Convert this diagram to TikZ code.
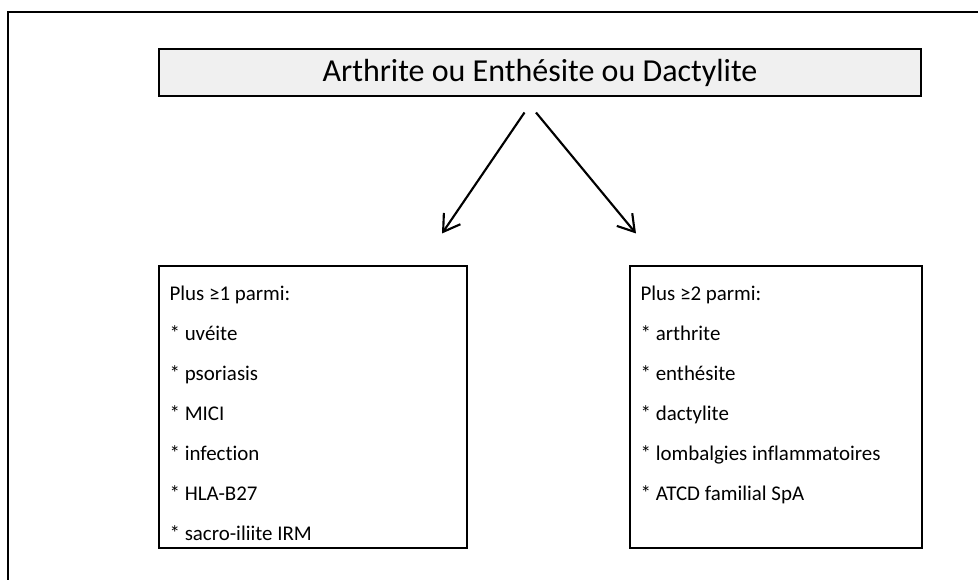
\documentclass[tikz,border=0pt]{standalone}
\usepackage{fontspec}
\setmainfont{Carlito}[Ligatures={NoCommon}]
\usepackage{xcolor}
\usepackage{tikz}
\usetikzlibrary{arrows.meta}

\definecolor{titregris}{HTML}{F0F0F0}

\tikzset{
  trait/.style={line width=1.4pt},
  titrebox/.style={trait, draw, fill=titregris, minimum width=571.5pt, minimum height=35.25pt, inner sep=0pt, font=\fontsize{24}{28}\selectfont},
  critbox/.style={trait, draw, anchor=north west, inner xsep=8pt, inner ysep=0pt, font=\fontsize{15.7}{30}\selectfont},
  fleche/.style={line width=1.6pt, -{Straight Barb[length=12pt,width=15pt,line width=1.6pt]}}
}

\begin{document}
\begin{tikzpicture}[x=0.75pt,y=-0.75pt]
\useasboundingbox (0,0) rectangle (978,580);
\draw[trait] (8,580)--(8,12)--(978,12);

\node[titrebox] (titre) at (540,72.5) {Arthrite ou Enthésite ou Dactylite};

\node[critbox] (plusun) at (158,265) {\parbox[b][211.5pt][t]{215pt}{\rule{0pt}{26pt}Plus ≥1 parmi:\\
{*} uvéite\\
{*} psoriasis\\
{*} MICI\\
{*} infection\\
{*} HLA-B27\\
{*} sacro-iliite IRM}};

\node[critbox] (plusdeux) at (629,265) {\parbox[b][211.5pt][t]{203pt}{\rule{0pt}{26pt}Plus ≥2 parmi:\\
{*} arthrite\\
{*} enthésite\\
{*} dactylite\\
{*} lombalgies inflammatoires\\
{*} ATCD familial SpA}};

\coordinate (depg) at (524.5,112.5);
\coordinate (finq) at (442,233.5);
\coordinate (depd) at (536,112.5);
\coordinate (find) at (636,233.5);
\draw[fleche] (depg)--(finq);
\draw[fleche] (depd)--(find);

\end{tikzpicture}
\end{document}
